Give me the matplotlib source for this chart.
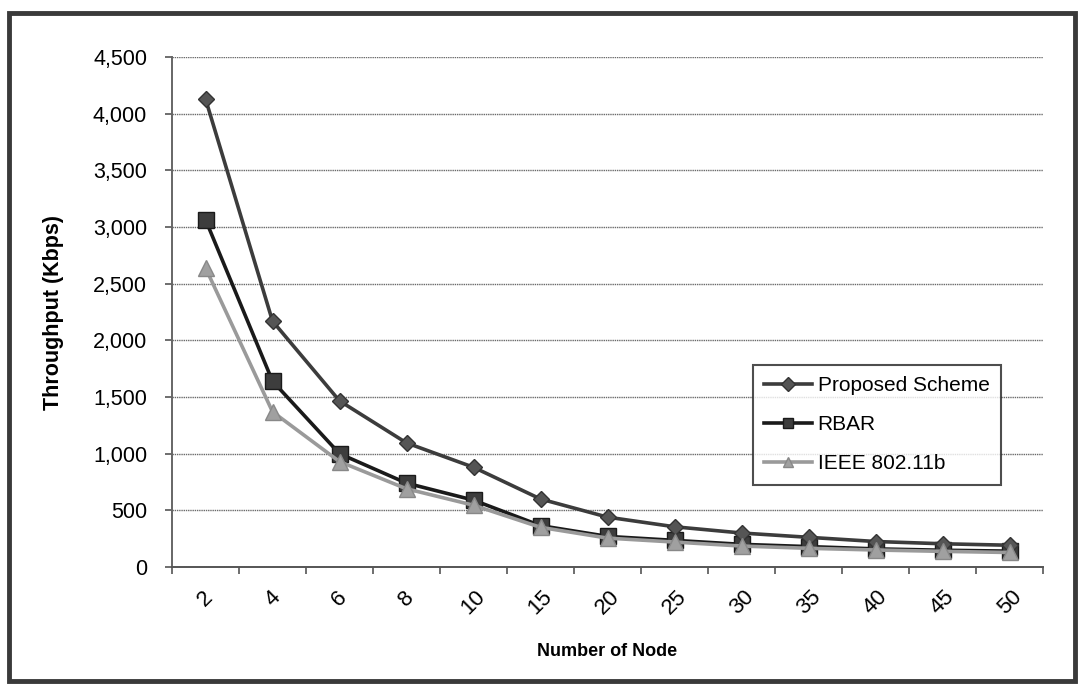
import matplotlib
matplotlib.use("Agg")
import matplotlib.pyplot as plt
from matplotlib.patches import Rectangle
from matplotlib.ticker import FuncFormatter, FixedLocator
import numpy as np

plt.rcParams['font.family'] = ['Liberation Sans', 'DejaVu Sans']

nodes = ["2", "4", "6", "8", "10", "15", "20", "25", "30", "35", "40", "45", "50"]
proposed = [4130, 2170, 1466, 1095, 880, 600, 440, 355, 300, 262, 225, 205, 192]
rbar = [3065, 1640, 1000, 740, 590, 365, 270, 235, 200, 180, 160, 148, 140]
ieee = [2640, 1370, 930, 690, 545, 350, 255, 220, 185, 165, 150, 138, 128]
y_ticks = [0, 500, 1000, 1500, 2000, 2500, 3000, 3500, 4000, 4500]

fig = plt.figure(figsize=(10.82, 6.88), dpi=100)
fig.patch.set_facecolor("white")
# chart-area frame
fig.patches.append(Rectangle((9 / 1082, 1 - 681 / 688), 1066 / 1082, 668 / 688,
                             transform=fig.transFigure, fill=False,
                             edgecolor="#3a3a3a", linewidth=3.5, zorder=0))

ax = fig.add_axes([172 / 1082, 1 - 567 / 688, 871 / 1082, 510 / 688])
x = np.arange(len(nodes))

ax.plot(x, proposed, color="#3c3c3c", linewidth=2.6, marker="D", markersize=8,
        markerfacecolor="#555555", markeredgecolor="#333333", label="Proposed Scheme", zorder=4)
ax.plot(x, rbar, color="#1a1a1a", linewidth=2.6, marker="s", markersize=11,
        markerfacecolor="#3d3d3d", markeredgecolor="#1a1a1a", label="RBAR", zorder=3)
ax.plot(x, ieee, color="#9a9a9a", linewidth=2.6, marker="^", markersize=11,
        markerfacecolor="#a0a0a0", markeredgecolor="#888888", label="IEEE 802.11b", zorder=5)

ax.set_xlim(-0.5, len(nodes) - 0.5)
ax.set_ylim(0, 4500)
ax.set_yticks(y_ticks)
ax.yaxis.set_major_formatter(FuncFormatter(lambda v, p: f"{int(v):,}"))
ax.grid(axis="y", color="#6a6a6a", linewidth=1.0, linestyle=(0, (1, 0.6)))
ax.set_axisbelow(True)

ax.set_xticks(x)
ax.set_xticklabels(nodes, rotation=45, ha="center", va="top", fontsize=16)
ax.tick_params(axis="x", which="major", length=0, pad=14)
ax.xaxis.set_minor_locator(FixedLocator(np.arange(-0.5, len(nodes), 1.0)))
ax.tick_params(axis="x", which="minor", length=5, width=1.2, color="#555555")
ax.tick_params(axis="y", length=5, width=1.2, color="#555555", labelsize=15.5, pad=13)

for side in ["top", "right"]:
    ax.spines[side].set_visible(False)
ax.spines["left"].set_color("#666666")
ax.spines["left"].set_linewidth(1.4)
ax.spines["bottom"].set_color("#555555")
ax.spines["bottom"].set_linewidth(1.4)

ax.set_xlabel("Number of Node", fontsize=13, fontweight="bold")
ax.xaxis.set_label_coords(0.5, (567 - 652) / 510)
ax.xaxis.label.set_va("center")
ax.set_ylabel("Throughput (Kbps)", fontsize=15.5, fontweight="bold")
ax.yaxis.set_label_coords((53 - 172) / 871, 0.5)
ax.yaxis.label.set_va("center")

leg = ax.legend(loc="upper left", bbox_to_anchor=((753 - 172) / 871, (567 - 365) / 510),
                fontsize=15, frameon=True, fancybox=False, edgecolor="#222222",
                handlelength=2.3, handletextpad=0.25, labelspacing=0.95,
                borderpad=0.55, borderaxespad=0)
leg.get_frame().set_linewidth(1.5)
for h in leg.legend_handles:
    h.set_markersize(7)

fig.savefig("out.png", dpi=100, facecolor="white")
